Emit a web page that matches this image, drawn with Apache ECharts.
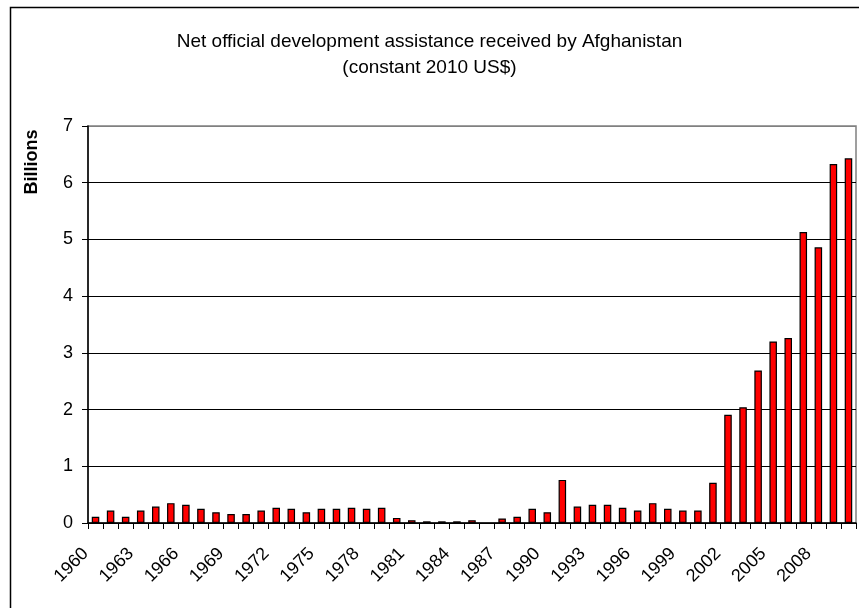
<!DOCTYPE html>
<html>
<head>
<meta charset="utf-8">
<script src="https://cdn.jsdelivr.net/npm/echarts@6/dist/echarts.min.js"></script>
<style>
html,body{margin:0;padding:0;background:#fff;}
#chart{width:859px;height:608px;}
</style>
</head>
<body>
<div id="chart"></div>
<script>
var years = ['1960','1961','1962','1963','1964','1965','1966','1967','1968','1969',
  '1970','1971','1972','1973','1974','1975','1976','1977','1978','1979',
  '1980','1981','1982','1983','1984','1985','1986','1987','1988','1989',
  '1990','1991','1992','1993','1994','1995','1996','1997','1998','1999',
  '2000','2001','2002','2003','2004','2005','2006','2007','2008','2009','2010'];
var odaBillions = [0.11,0.22,0.11,0.22,0.29,0.35,0.32,0.25,0.19,0.16,
  0.16,0.22,0.27,0.25,0.19,0.25,0.25,0.27,0.25,0.27,
  0.09,0.05,0.03,0.03,0.03,0.05,null,0.08,0.11,0.25,
  0.19,0.76,0.29,0.32,0.32,0.27,0.22,0.35,0.25,0.22,
  0.22,0.71,1.91,2.04,2.69,3.20,3.26,5.13,4.86,6.33,6.43];
var titleLines = ['Net official development assistance received by Afghanistan', '(constant 2010 US$)'];
var yAxisName = 'Billions';

var FONT = '"Liberation Sans", Arial, sans-serif';
var chart = echarts.init(document.getElementById('chart'), null, {renderer:'canvas'});
chart.setOption({
  backgroundColor: '#fff',
  animation: false,
  title: {
    text: titleLines.join('\n'),
    left: 'center',
    top: 24,
    textStyle: {fontFamily: FONT, fontSize: 19, fontWeight: 'normal', color: '#000', lineHeight: 26}
  },
  graphic: [
    {type:'rect', left: 8, top: 5, z: 100, silent: true,
     shape:{x:0,y:0,width:900,height:700},
     style:{fill:'none', stroke:'#000', lineWidth:1.5}},
    {type:'text', x: 32, y: 162, rotation: Math.PI/2, z: 100,
     style:{text: yAxisName, font: 'bold 18px ' + FONT, fill:'#000', textAlign:'center', textVerticalAlign:'middle'}}
  ],
  grid: {left: 88, right: 3, top: 126, bottom: 85, show: true, borderColor: '#808080', borderWidth: 1.5, backgroundColor: '#fff'},
  xAxis: {
    type: 'category',
    data: years,
    boundaryGap: true,
    axisLine: {show: true, lineStyle: {color: '#000', width: 1.5}},
    axisTick: {show: true, interval: 0, length: 6, lineStyle: {color: '#000', width: 1}},
    axisLabel: {interval: 2, rotate: 45, margin: 18, fontFamily: FONT, fontSize: 18, color: '#000', padding: [0, 14, 0, 0]},
    splitLine: {show: false}
  },
  yAxis: {
    type: 'value',
    min: 0, max: 7, interval: 1,
    axisLine: {show: true, lineStyle: {color: '#000', width: 1.5}},
    axisTick: {show: true, length: 6, lineStyle: {color: '#000', width: 1}},
    axisLabel: {fontFamily: FONT, fontSize: 18, color: '#000', margin: 15},
    splitLine: {show: true, lineStyle: {color: ['#000','#000','#000','#000','#000','#000','#000','#808080'], width: 1.2}}
  },
  series: [{
    type: 'bar',
    data: odaBillions,
    barWidth: '50%',
    itemStyle: {color: '#ff0000', borderColor: '#000', borderWidth: 1.2}
  }]
});
</script>
</body>
</html>
